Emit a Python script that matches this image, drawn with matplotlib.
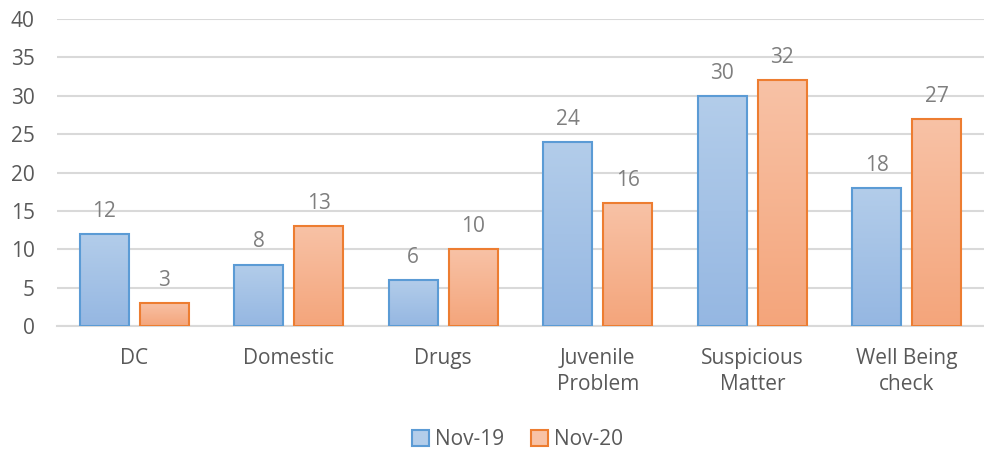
import matplotlib
matplotlib.use("Agg")
import matplotlib.pyplot as plt
import numpy as np
from matplotlib.colors import LinearSegmentedColormap
from matplotlib.patches import Patch

categories = ["DC", "Domestic", "Drugs", "Juvenile\nProblem", "Suspicious\nMatter", "Well Being\ncheck"]
series_names = ["Nov-19", "Nov-20"]
nov19 = [12, 8, 6, 24, 30, 18]
nov20 = [3, 13, 10, 16, 32, 27]
yticks = [0, 5, 10, 15, 20, 25, 30, 35, 40]

plt.rcParams['font.family'] = ['Open Sans', 'DejaVu Sans']
text_color = "#595959"
label_color = "#7F7F7F"
fs = 15

fig = plt.figure(figsize=(9.84, 4.53), dpi=100)
ax = fig.add_axes([0.058, 0.28, 0.942, 0.678])

x = np.arange(len(categories))
w = 0.317
off = 0.195
styles = [
    dict(edge="#5B9BD5", top="#B3CDEA", bot="#95B7E2"),
    dict(edge="#ED7D31", top="#F8C2A6", bot="#F4A57B"),
]
ax.set_xlim(-0.5, len(categories) - 0.5)
ax.set_ylim(0, 40)

for si, (vals, st) in enumerate(zip([nov19, nov20], styles)):
    pos = x + (-off if si == 0 else off)
    bars = ax.bar(pos, vals, w, color="none", edgecolor=st["edge"], linewidth=1.5, zorder=3)
    cmap = LinearSegmentedColormap.from_list("g%d" % si, [st["bot"], st["top"]])
    for b, v in zip(bars, vals):
        bx = b.get_x()
        bw, bh = b.get_width(), b.get_height()
        grad = np.linspace(0, 1, 256).reshape(-1, 1)
        im = ax.imshow(grad, extent=[bx, bx + bw, 0, bh], origin="lower",
                       cmap=cmap, aspect="auto", zorder=2)
        im.set_clip_path(b)
        ax.text(bx + bw / 2, v + 1.6, str(v), ha="center", va="bottom",
                fontsize=fs, color=label_color)

ax.set_xlim(-0.5, len(categories) - 0.5)
ax.set_ylim(0, 40)
ax.set_yticks(yticks)
ax.set_yticklabels([str(t) for t in yticks], fontsize=fs, color=text_color)
ax.set_xticks(x)
ax.set_xticklabels(categories, fontsize=fs, color=text_color)
for t in ax.get_xticklabels():
    t.set_linespacing(1.3)
ax.tick_params(axis="x", length=0, pad=16)
ax.tick_params(axis="y", length=0, pad=16)
ax.grid(axis="y", color="#D9D9D9", linewidth=1.5, zorder=0)
for s in ["top", "right", "left"]:
    ax.spines[s].set_visible(False)
ax.spines["bottom"].set_color("#D9D9D9")
ax.spines["bottom"].set_linewidth(1.5)

handles = [Patch(facecolor=st["top"], edgecolor=st["edge"], linewidth=1.5) for st in styles]
fig.legend(handles, series_names, loc="center", bbox_to_anchor=(0.526, 0.030), ncol=2,
           frameon=False, fontsize=fs, labelcolor=text_color, handlelength=0.8,
           handleheight=0.8, handletextpad=0.3, columnspacing=1.3)

fig.savefig("out.png", dpi=100)
